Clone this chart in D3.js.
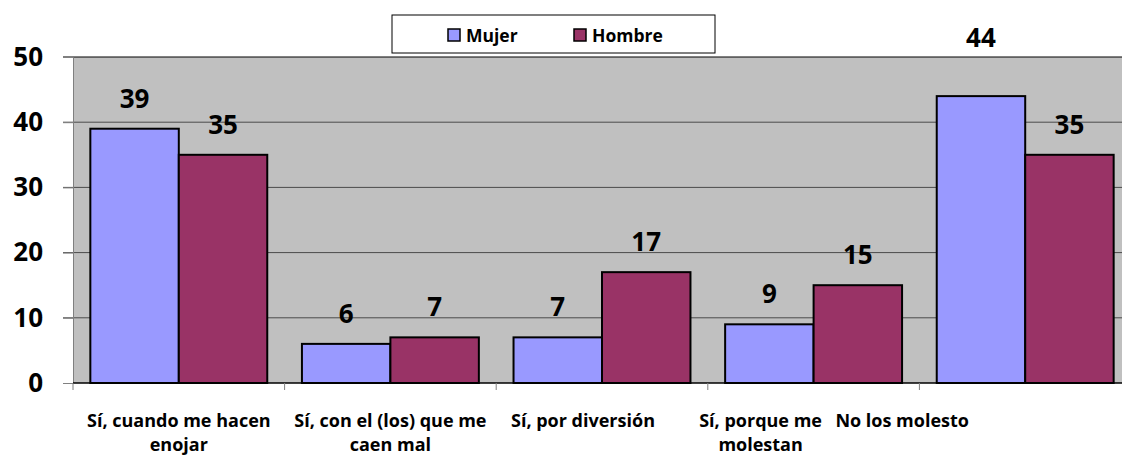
<!DOCTYPE html>
<html>
<head>
<meta charset="utf-8">
<script src="https://cdn.jsdelivr.net/npm/d3@7"></script>
<style>
  body { margin: 0; background: #fff; }
  text { font-family: "Open Sans", Lato, sans-serif; font-weight: bold; fill: #000; }
</style>
</head>
<body>
<div id="chart"></div>
<script>
//////////////////////////////////////////////////////////////////////////////
// data

var categories = [
    ["Sí, cuando me hacen", "enojar"],
    ["Sí, con el (los) que me", "caen mal"],
    ["Sí, por diversión"],
    ["Sí, porque me", "molestan"],
    ["No los molesto"]
];
var series = ["Mujer", "Hombre"];
var mujer  = [39, 6, 7, 9, 44];
var hombre = [35, 7, 17, 15, 35];
var yTicks = [0, 10, 20, 30, 40, 50];

var colors = { Mujer: "#9999ff", Hombre: "#993366" };

//////////////////////////////////////////////////////////////////////////////
// layout

var width = 1122, height = 459;
var plotLeft = 73, plotRight = 1131, plotTop = 57, plotBottom = 383;
// excel put the wrapped category labels a bit off the category centers
var labelNudge = [0, 0, -19, -53, -123];

var svg = d3.select("#chart").append("svg")
    .attr("width", width)
    .attr("height", height);

var x0 = d3.scaleBand().domain(d3.range(categories.length)).range([plotLeft, plotRight]);
var x1 = d3.scaleBand().domain(series).range([0, x0.bandwidth()]).paddingOuter(0.196);
var y = d3.scaleLinear().domain([0, 50]).range([plotBottom, plotTop]);

// plot area
svg.append("rect")
    .attr("x", plotLeft).attr("y", plotTop)
    .attr("width", plotRight - plotLeft).attr("height", plotBottom - plotTop)
    .attr("fill", "#c0c0c0");

// gridlines
svg.append("g").selectAll("line")
    .data(yTicks.filter(function(d) { return d > 0; }))
    .enter().append("line")
    .attr("x1", plotLeft - 10).attr("x2", plotRight)
    .attr("y1", function(d) { return y(d); })
    .attr("y2", function(d) { return y(d); })
    .attr("stroke", function(d) { return d == 50 ? "#000" : "#4a4a4a"; })
    .attr("stroke-width", 1);

// y axis
var yAxis = svg.append("g")
    .attr("transform", "translate(" + plotLeft + ",0)")
    .call(d3.axisLeft(y).tickValues(yTicks).tickSize(10).tickPadding(20));
yAxis.select(".domain").attr("stroke", "#808080");
yAxis.selectAll(".tick line").attr("stroke", "#808080");
yAxis.selectAll("text")
    .style("font-size", "26px")
    .attr("fill", "#000");

// bars
var rows = categories.map(function(c, i) {
    return [{ s: "Mujer", v: mujer[i], i: i }, { s: "Hombre", v: hombre[i], i: i }];
});

var groups = svg.append("g").selectAll("g")
    .data(rows)
    .enter().append("g")
    .attr("transform", function(d, i) { return "translate(" + x0(i) + ",0)"; });

groups.selectAll("rect")
    .data(function(d) { return d; })
    .enter().append("rect")
    .attr("x", function(d) { return x1(d.s); })
    .attr("y", function(d) { return y(d.v); })
    .attr("width", x1.bandwidth())
    .attr("height", function(d) { return y(0) - y(d.v); })
    .attr("fill", function(d) { return colors[d.s]; })
    .attr("stroke", "#000")
    .attr("stroke-width", 2);

groups.selectAll("text.val")
    .data(function(d) { return d; })
    .enter().append("text")
    .attr("class", "val")
    .attr("x", function(d) { return x1(d.s) + x1.bandwidth() / 2; })
    .attr("y", function(d) {
        // the 44 label sits above the plot area in the original
        return d.v > 40 ? y(d.v) - 49 : y(d.v) - 21;
    })
    .attr("text-anchor", "middle")
    .style("font-size", "26px")
    .text(function(d) { return d.v; });

// x axis
svg.append("line")
    .attr("x1", plotLeft).attr("x2", plotRight)
    .attr("y1", plotBottom).attr("y2", plotBottom)
    .attr("stroke", "#000").attr("stroke-width", 1.5);

svg.append("g").selectAll("line")
    .data(d3.range(categories.length + 1))
    .enter().append("line")
    .attr("x1", function(d) { return plotLeft + d * x0.step(); })
    .attr("x2", function(d) { return plotLeft + d * x0.step(); })
    .attr("y1", plotBottom).attr("y2", plotBottom + 7)
    .attr("stroke", "#808080");

svg.append("g").selectAll("text")
    .data(categories)
    .enter().append("text")
    .attr("x", function(d, i) { return x0(i) + x0.bandwidth() / 2 + labelNudge[i]; })
    .attr("y", 427)
    .attr("text-anchor", "middle")
    .style("font-size", "18px")
    .each(function(d) {
        var t = d3.select(this), cx = t.attr("x");
        d.forEach(function(line, k) {
            t.append("tspan").attr("x", cx).attr("dy", k ? 24 : 0).text(line);
        });
    });

// legend
var legend = svg.append("g");
legend.append("rect")
    .attr("x", 392).attr("y", 15)
    .attr("width", 323).attr("height", 38)
    .attr("fill", "#fff").attr("stroke", "#000");

var legendX = d3.scaleOrdinal().domain(series).range([448, 574]);
var items = legend.selectAll("g.item")
    .data(series)
    .enter().append("g")
    .attr("class", "item")
    .attr("transform", function(d) { return "translate(" + legendX(d) + ",29)"; });
items.append("rect")
    .attr("width", 12).attr("height", 12)
    .attr("fill", function(d) { return colors[d]; })
    .attr("stroke", "#000").attr("stroke-width", 1.5);
items.append("text")
    .attr("x", 18).attr("y", 12.5)
    .style("font-size", "17.5px")
    .text(function(d) { return d; });
</script>
</body>
</html>
